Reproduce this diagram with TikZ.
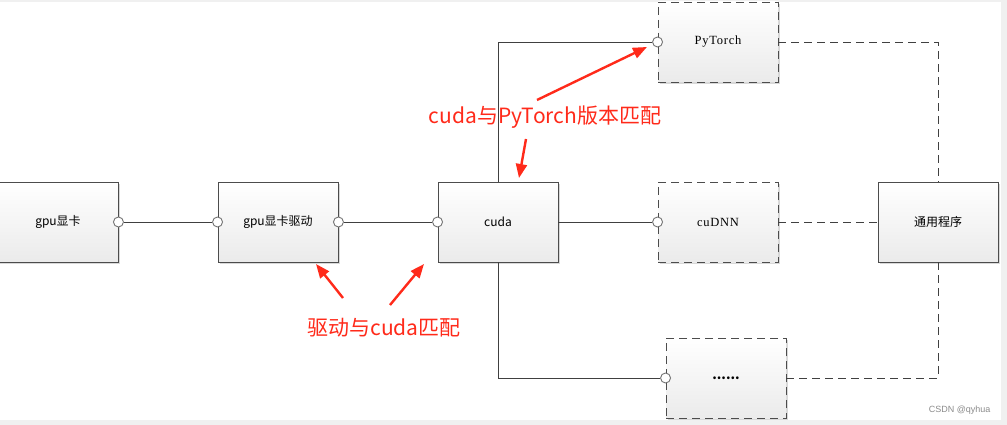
\documentclass[tikz,border=0pt]{standalone}
\usepackage{fontspec}
\setmainfont{Liberation Sans}
\newfontfamily\cjk{Noto Sans CJK SC}
\newfontfamily\serifmono[LetterSpace=6]{Liberation Serif}
\usetikzlibrary{shadows,arrows.meta,calc}
\definecolor{annot}{HTML}{FF2A1A}
\begin{document}
\begin{tikzpicture}[x=1pt,y=-1pt,
 box/.style={draw=black!70, line width=0.9pt, top color=white, bottom color=black!8,
   minimum width=120pt, minimum height=80pt, inner sep=0pt,
   drop shadow={shadow xshift=2pt,shadow yshift=-2pt,fill=black!30,opacity=0.5},
   font=\cjk\fontsize{12}{14}\selectfont},
 dbox/.style={box, dash pattern=on 8pt off 5pt},
 lat/.style={font=\serifmono\fontsize{12.5}{14}\selectfont},
 port/.style={circle, draw=black!55, fill=white, line width=0.9pt, minimum size=10pt, inner sep=0pt},
 wire/.style={draw=black!75, line width=0.9pt},
 dwire/.style={wire, dash pattern=on 8pt off 5pt},
 note/.style={text=annot, font=\cjk\fontsize{21}{25}\selectfont, inner sep=0pt},
 redarrow/.style={draw=annot, line width=2.4pt, -{Triangle[length=14pt,width=11pt]}}
]
\useasboundingbox (0,0) rectangle (1007,425);
\clip (0,0) rectangle (1007,425);
\fill[black!6] (0,0) rectangle (1007,425);
\fill[white] (0,2) rectangle (1001,420);

\node[box] (gpu) at (58,222) {gpu显卡};
\node[box] (drv) at (278,222) {gpu显卡驱动};
\node[box] (cuda) at (498,222) {cuda};
\node[dbox, lat] (pt) at (718,42) {PyTorch};
\node[dbox, lat] (cudnn) at (718,222) {cuDNN};
\node[dbox, font=\cjk\fontsize{13}{14}\selectfont\bfseries] (etc) at (726,378) {......};
\node[box] (app) at (938,222) {通用程序};

\node[port] (p1) at (gpu.east) {};
\node[port] (p2) at (drv.west) {};
\node[port] (p3) at (drv.east) {};
\node[port] (p4) at (cuda.west) {};
\node[port] (p5) at (cudnn.west) {};
\node[port] (p6) at (pt.west) {};
\node[port] (p7) at (etc.west) {};

\draw[wire] (p1) -- (p2);
\draw[wire] (p3) -- (p4);
\draw[wire] (cuda.east) -- (p5);
\draw[wire] (cuda.north) |- (p6);
\draw[wire] (cuda.south) |- (p7);

\draw[dwire] (pt.east) -| (app.north);
\draw[dwire] (cudnn.east) -- (app.west);
\draw[dwire] (etc.east) -| (app.south);

\node[note] (n1) at (545,117) {cuda与PyTorch版本匹配};
\node[note] (n2) at (384,328) {驱动与cuda匹配};

\coordinate (a1s) at (526,139); \coordinate (a1e) at (519,178);
\coordinate (a2s) at (537,100); \coordinate (a2e) at (647,47);
\coordinate (a3s) at (343,298); \coordinate (a3e) at (316,264);
\coordinate (a4s) at (390,305); \coordinate (a4e) at (424,264);
\draw[redarrow] (a1s) -- (a1e);
\draw[redarrow] (a2s) -- (a2e);
\draw[redarrow] (a3s) -- (a3e);
\draw[redarrow] (a4s) -- (a4e);

\node[font=\fontsize{9}{10}\selectfont, text=black!45, anchor=east] (wm) at (994,410) {CSDN @qyhua};
\end{tikzpicture}
\end{document}
